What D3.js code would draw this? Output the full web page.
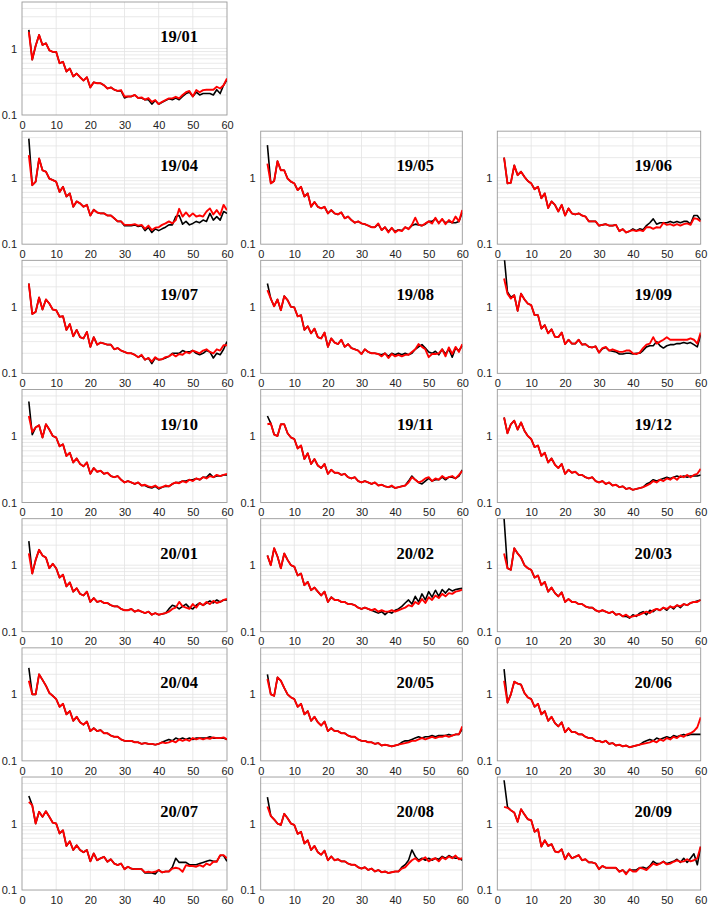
<!DOCTYPE html>
<html><head><meta charset="utf-8">
<script src="https://cdn.jsdelivr.net/npm/d3@7"></script>
<style>body{margin:0;background:#fff}svg{display:block}</style>
</head><body>
<svg id="chart" width="709" height="906"></svg>
<script>
// ---------- data ----------
const lagValues = d3.range(2, 61); // x = 2..60
const xTickValues = [0, 10, 20, 30, 40, 50, 60];
const yTickValues = [0.1, 1];
const yTickLabels = ["0.1", "1"];
const yGridValues = [0.2,0.3,0.4,0.5,0.6,0.7,0.8,0.9,1,2,3,4];
const panelLabels = ["19/01","19/04","19/05","19/06","19/07","19/08","19/09","19/10","19/11","19/12",
  "20/01","20/02","20/03","20/04","20/05","20/06","20/07","20/08","20/09"];

const red_1901 = [1.78,0.68,1.1,1.6,1.13,1.2,0.94,0.89,0.89,0.6,0.63,0.45,0.5,0.38,0.42,0.37,0.33,0.37,0.26,0.31,0.3,0.3,0.28,0.25,0.26,0.24,0.23,0.237,0.19,0.19,0.19,0.2,0.18,0.184,0.17,0.18,0.158,0.168,0.146,0.158,0.168,0.178,0.178,0.188,0.178,0.2,0.22,0.23,0.19,0.237,0.22,0.237,0.24,0.24,0.24,0.266,0.25,0.28,0.355];
const black_1901 = [1.9,0.68,1.1,1.6,1.13,1.2,0.94,0.89,0.89,0.6,0.63,0.45,0.5,0.38,0.42,0.37,0.33,0.37,0.26,0.31,0.3,0.3,0.28,0.25,0.26,0.24,0.23,0.23,0.18,0.19,0.19,0.2,0.18,0.18,0.17,0.17,0.146,0.165,0.145,0.155,0.165,0.175,0.17,0.18,0.17,0.19,0.21,0.22,0.19,0.22,0.2,0.21,0.21,0.21,0.2,0.24,0.21,0.28,0.34];

const red_1904 = [2.18,0.77,0.87,1.94,1.29,1.23,0.97,0.92,0.87,0.61,0.73,0.52,0.58,0.365,0.44,0.41,0.365,0.39,0.27,0.33,0.3,0.29,0.29,0.27,0.27,0.245,0.22,0.22,0.195,0.195,0.195,0.2,0.19,0.195,0.17,0.19,0.163,0.177,0.18,0.195,0.205,0.22,0.205,0.23,0.34,0.26,0.3,0.26,0.29,0.26,0.27,0.26,0.31,0.345,0.28,0.325,0.275,0.39,0.325];
const black_1904 = [3.87,0.77,0.87,1.94,1.29,1.23,0.97,0.92,0.87,0.61,0.73,0.52,0.58,0.365,0.44,0.41,0.365,0.39,0.27,0.33,0.3,0.29,0.29,0.27,0.27,0.245,0.22,0.22,0.19,0.19,0.19,0.195,0.185,0.19,0.16,0.18,0.15,0.17,0.16,0.17,0.18,0.195,0.195,0.26,0.27,0.2,0.22,0.195,0.205,0.22,0.21,0.23,0.22,0.29,0.23,0.26,0.23,0.31,0.29];

const red_1905 = [1.63,0.82,0.89,1.77,1.29,1.29,0.97,0.87,0.82,0.65,0.73,0.52,0.58,0.365,0.43,0.365,0.345,0.365,0.29,0.325,0.29,0.28,0.3,0.245,0.26,0.23,0.21,0.22,0.205,0.2,0.19,0.18,0.18,0.205,0.163,0.18,0.15,0.177,0.15,0.163,0.157,0.18,0.168,0.195,0.25,0.195,0.19,0.205,0.22,0.205,0.25,0.205,0.24,0.2,0.23,0.21,0.26,0.22,0.325];
const black_1905 = [3.08,0.82,0.89,1.77,1.29,1.29,0.97,0.87,0.82,0.65,0.73,0.52,0.58,0.365,0.43,0.365,0.345,0.365,0.29,0.325,0.29,0.28,0.3,0.245,0.26,0.23,0.21,0.22,0.205,0.2,0.19,0.18,0.18,0.2,0.163,0.18,0.155,0.175,0.155,0.165,0.16,0.18,0.17,0.19,0.2,0.195,0.19,0.2,0.22,0.22,0.24,0.21,0.235,0.21,0.22,0.21,0.21,0.22,0.3];

const red_1906 = [2.0,0.82,0.84,1.53,1.09,1.23,1.03,0.89,0.82,0.67,0.73,0.49,0.58,0.35,0.44,0.39,0.31,0.39,0.27,0.345,0.29,0.28,0.29,0.27,0.26,0.22,0.22,0.22,0.19,0.195,0.2,0.19,0.19,0.195,0.157,0.168,0.15,0.157,0.163,0.157,0.163,0.157,0.18,0.18,0.17,0.18,0.177,0.21,0.195,0.2,0.19,0.2,0.19,0.2,0.205,0.195,0.245,0.24,0.22];
const black_1906 = [2.0,0.82,0.84,1.53,1.09,1.23,1.03,0.89,0.82,0.67,0.73,0.49,0.58,0.35,0.44,0.39,0.31,0.39,0.27,0.345,0.29,0.28,0.29,0.27,0.26,0.22,0.22,0.22,0.19,0.195,0.2,0.19,0.19,0.195,0.157,0.168,0.15,0.157,0.17,0.16,0.17,0.165,0.19,0.21,0.24,0.2,0.21,0.21,0.21,0.22,0.21,0.22,0.21,0.22,0.22,0.2,0.27,0.27,0.23];

const red_1907 = [2.24,0.78,0.84,1.38,0.91,1.29,1.12,0.91,0.89,0.71,0.72,0.45,0.55,0.36,0.45,0.35,0.335,0.42,0.25,0.35,0.27,0.29,0.28,0.27,0.27,0.23,0.24,0.22,0.21,0.2,0.2,0.19,0.175,0.19,0.16,0.17,0.15,0.175,0.16,0.163,0.175,0.18,0.195,0.18,0.195,0.19,0.21,0.2,0.22,0.21,0.2,0.22,0.23,0.21,0.2,0.23,0.22,0.265,0.265];
const black_1907 = [2.24,0.78,0.84,1.38,0.91,1.29,1.12,0.91,0.89,0.71,0.72,0.45,0.55,0.36,0.45,0.35,0.335,0.42,0.25,0.35,0.27,0.29,0.28,0.27,0.27,0.23,0.24,0.22,0.21,0.2,0.2,0.19,0.175,0.185,0.16,0.17,0.14,0.17,0.16,0.163,0.17,0.18,0.2,0.2,0.2,0.22,0.21,0.21,0.22,0.2,0.19,0.2,0.22,0.21,0.17,0.2,0.19,0.23,0.3];

const red_1908 = [1.78,1.33,1.02,1.29,0.89,1.45,1.26,1.0,0.98,0.72,0.75,0.45,0.51,0.4,0.47,0.35,0.335,0.41,0.25,0.335,0.29,0.275,0.32,0.25,0.275,0.24,0.23,0.22,0.195,0.23,0.21,0.2,0.2,0.195,0.18,0.2,0.17,0.195,0.18,0.19,0.18,0.19,0.19,0.21,0.23,0.275,0.25,0.23,0.175,0.195,0.195,0.2,0.23,0.18,0.245,0.195,0.25,0.21,0.275];
const black_1908 = [2.24,1.33,1.02,1.29,0.89,1.45,1.26,1.0,0.98,0.72,0.75,0.45,0.51,0.4,0.47,0.35,0.335,0.41,0.25,0.335,0.29,0.275,0.32,0.25,0.275,0.24,0.23,0.22,0.195,0.23,0.21,0.2,0.2,0.195,0.19,0.2,0.18,0.2,0.19,0.2,0.19,0.2,0.19,0.2,0.23,0.25,0.27,0.24,0.21,0.2,0.215,0.19,0.23,0.195,0.23,0.175,0.24,0.22,0.26];

const red_1909 = [2.66,1.58,1.33,1.5,0.87,1.58,1.29,1.12,1.06,0.75,0.75,0.47,0.53,0.4,0.46,0.355,0.35,0.41,0.275,0.32,0.28,0.28,0.32,0.27,0.275,0.25,0.245,0.255,0.205,0.24,0.25,0.22,0.23,0.22,0.21,0.21,0.22,0.22,0.2,0.195,0.205,0.24,0.27,0.28,0.35,0.28,0.3,0.32,0.35,0.32,0.32,0.32,0.32,0.32,0.32,0.335,0.32,0.28,0.41];
const black_1909 = [6.0,1.67,1.4,1.5,0.87,1.58,1.29,1.12,1.06,0.75,0.75,0.47,0.53,0.4,0.46,0.355,0.35,0.41,0.275,0.32,0.28,0.28,0.32,0.27,0.275,0.25,0.245,0.255,0.205,0.235,0.245,0.22,0.215,0.21,0.195,0.195,0.2,0.2,0.195,0.2,0.2,0.22,0.25,0.26,0.26,0.3,0.26,0.24,0.26,0.27,0.27,0.28,0.28,0.29,0.28,0.29,0.27,0.25,0.38];

const red_1910 = [2.0,1.15,1.35,1.45,0.95,1.5,1.25,1.0,0.95,0.7,0.75,0.5,0.56,0.4,0.46,0.38,0.35,0.4,0.27,0.33,0.29,0.3,0.27,0.28,0.25,0.24,0.25,0.22,0.2,0.21,0.2,0.19,0.2,0.18,0.185,0.175,0.17,0.18,0.165,0.17,0.18,0.175,0.19,0.2,0.195,0.21,0.2,0.22,0.21,0.23,0.22,0.24,0.23,0.25,0.24,0.26,0.25,0.26,0.27];
const black_1910 = [3.3,1.05,1.35,1.45,0.95,1.5,1.25,1.0,0.95,0.7,0.75,0.5,0.56,0.4,0.46,0.38,0.35,0.4,0.27,0.33,0.29,0.3,0.27,0.28,0.25,0.24,0.25,0.22,0.2,0.21,0.2,0.19,0.2,0.18,0.18,0.17,0.165,0.175,0.16,0.17,0.175,0.175,0.19,0.2,0.2,0.21,0.21,0.22,0.22,0.23,0.22,0.24,0.24,0.27,0.24,0.25,0.25,0.26,0.26];

const red_1911 = [1.5,1.55,1.05,1.0,1.5,1.5,1.1,0.95,0.9,0.65,0.72,0.45,0.55,0.38,0.45,0.36,0.33,0.38,0.27,0.31,0.28,0.28,0.26,0.27,0.24,0.23,0.24,0.21,0.2,0.21,0.2,0.19,0.2,0.18,0.185,0.175,0.17,0.18,0.165,0.17,0.175,0.18,0.2,0.24,0.22,0.2,0.21,0.23,0.24,0.21,0.23,0.22,0.25,0.23,0.24,0.25,0.23,0.26,0.3];
const black_1911 = [2.0,1.55,1.05,1.0,1.5,1.5,1.1,0.95,0.9,0.65,0.72,0.45,0.55,0.38,0.45,0.36,0.33,0.38,0.27,0.31,0.28,0.28,0.26,0.27,0.24,0.23,0.24,0.21,0.2,0.21,0.2,0.19,0.2,0.18,0.185,0.175,0.17,0.175,0.165,0.17,0.175,0.18,0.21,0.25,0.22,0.2,0.19,0.21,0.23,0.21,0.22,0.22,0.24,0.22,0.24,0.24,0.23,0.25,0.31];

const red_1912 = [1.9,1.1,1.5,1.7,1.25,1.6,1.2,1.0,0.9,0.68,0.72,0.5,0.56,0.4,0.46,0.37,0.33,0.38,0.27,0.31,0.28,0.29,0.26,0.26,0.24,0.23,0.24,0.21,0.2,0.21,0.19,0.2,0.18,0.185,0.17,0.175,0.16,0.165,0.155,0.16,0.165,0.17,0.18,0.19,0.21,0.2,0.22,0.21,0.23,0.22,0.24,0.22,0.25,0.24,0.26,0.24,0.26,0.27,0.32];
const black_1912 = [1.9,1.1,1.5,1.7,1.25,1.6,1.2,1.0,0.9,0.68,0.72,0.5,0.56,0.4,0.46,0.37,0.33,0.38,0.27,0.31,0.28,0.29,0.26,0.26,0.24,0.23,0.24,0.21,0.2,0.21,0.19,0.2,0.18,0.185,0.17,0.175,0.16,0.165,0.155,0.16,0.165,0.17,0.19,0.2,0.22,0.21,0.22,0.23,0.24,0.23,0.24,0.25,0.24,0.25,0.24,0.25,0.25,0.25,0.26];

const red_2001 = [1.5,0.75,1.2,1.7,1.4,1.3,0.9,1.05,0.9,0.65,0.72,0.48,0.55,0.4,0.45,0.37,0.35,0.4,0.28,0.32,0.28,0.29,0.27,0.27,0.25,0.24,0.24,0.22,0.21,0.21,0.22,0.2,0.21,0.2,0.19,0.2,0.18,0.19,0.18,0.185,0.19,0.2,0.22,0.23,0.28,0.24,0.23,0.22,0.26,0.23,0.27,0.25,0.28,0.26,0.29,0.27,0.28,0.3,0.31];
const black_2001 = [2.3,0.75,1.2,1.7,1.4,1.3,0.9,1.05,0.9,0.65,0.72,0.48,0.55,0.4,0.45,0.37,0.35,0.4,0.28,0.32,0.28,0.29,0.27,0.27,0.25,0.24,0.24,0.22,0.21,0.21,0.22,0.2,0.21,0.2,0.19,0.2,0.18,0.19,0.18,0.185,0.19,0.22,0.25,0.24,0.22,0.24,0.26,0.23,0.22,0.25,0.27,0.25,0.27,0.29,0.27,0.3,0.28,0.3,0.3];

const red_2002 = [1.4,1.0,1.8,1.35,0.9,1.5,1.2,1.0,0.95,0.7,0.75,0.5,0.56,0.42,0.46,0.4,0.35,0.4,0.28,0.33,0.3,0.3,0.28,0.28,0.26,0.26,0.25,0.23,0.22,0.23,0.22,0.21,0.22,0.2,0.21,0.2,0.2,0.21,0.2,0.21,0.22,0.23,0.25,0.24,0.28,0.26,0.31,0.27,0.33,0.3,0.35,0.32,0.37,0.34,0.38,0.37,0.4,0.41,0.43];
const black_2002 = [1.4,1.0,1.8,1.35,0.9,1.5,1.2,1.0,0.95,0.7,0.75,0.5,0.56,0.42,0.46,0.4,0.35,0.4,0.28,0.33,0.3,0.3,0.28,0.28,0.26,0.26,0.25,0.23,0.22,0.23,0.22,0.21,0.2,0.19,0.2,0.18,0.2,0.19,0.21,0.22,0.24,0.27,0.3,0.26,0.34,0.28,0.37,0.3,0.4,0.33,0.42,0.34,0.43,0.38,0.44,0.41,0.43,0.44,0.45];

const red_2003 = [1.5,0.9,0.85,1.8,1.5,1.3,1.0,0.9,0.85,0.65,0.7,0.5,0.56,0.4,0.46,0.38,0.34,0.39,0.28,0.31,0.28,0.28,0.26,0.26,0.24,0.23,0.23,0.21,0.2,0.21,0.2,0.19,0.2,0.18,0.185,0.17,0.18,0.165,0.17,0.175,0.18,0.19,0.2,0.19,0.21,0.22,0.21,0.23,0.22,0.24,0.23,0.25,0.24,0.26,0.25,0.27,0.28,0.28,0.3];
const black_2003 = [5.0,0.9,0.85,1.8,1.5,1.3,1.0,0.9,0.85,0.65,0.7,0.5,0.56,0.4,0.46,0.38,0.34,0.39,0.28,0.31,0.28,0.28,0.26,0.26,0.24,0.23,0.23,0.21,0.2,0.21,0.2,0.19,0.2,0.18,0.185,0.17,0.17,0.16,0.18,0.17,0.19,0.2,0.18,0.21,0.2,0.22,0.21,0.23,0.21,0.24,0.22,0.25,0.23,0.26,0.25,0.27,0.28,0.29,0.3];

const red_2004 = [1.6,1.0,1.0,2.0,1.65,1.35,1.05,0.95,0.85,0.65,0.72,0.5,0.56,0.4,0.46,0.38,0.35,0.39,0.28,0.31,0.28,0.29,0.26,0.26,0.24,0.23,0.23,0.21,0.2,0.2,0.2,0.19,0.19,0.18,0.185,0.18,0.18,0.175,0.18,0.19,0.185,0.19,0.2,0.19,0.21,0.2,0.21,0.2,0.22,0.21,0.22,0.21,0.22,0.215,0.225,0.22,0.22,0.225,0.21];
const black_2004 = [2.5,1.0,1.0,2.0,1.65,1.35,1.05,0.95,0.85,0.65,0.72,0.5,0.56,0.4,0.46,0.38,0.35,0.39,0.28,0.31,0.28,0.29,0.26,0.26,0.24,0.23,0.23,0.21,0.2,0.2,0.2,0.19,0.19,0.18,0.185,0.18,0.18,0.175,0.18,0.19,0.2,0.21,0.2,0.22,0.21,0.22,0.21,0.22,0.21,0.22,0.22,0.22,0.22,0.23,0.22,0.22,0.22,0.22,0.21];

const red_2005 = [1.7,1.0,0.95,1.8,1.6,1.25,1.0,0.9,0.85,0.65,0.72,0.5,0.56,0.4,0.46,0.38,0.34,0.39,0.28,0.31,0.28,0.28,0.26,0.26,0.24,0.23,0.23,0.21,0.2,0.2,0.19,0.19,0.18,0.185,0.17,0.175,0.17,0.165,0.17,0.175,0.18,0.185,0.19,0.2,0.2,0.21,0.22,0.21,0.22,0.23,0.22,0.23,0.23,0.24,0.23,0.24,0.25,0.25,0.33];
const black_2005 = [2.0,1.0,0.95,1.8,1.6,1.25,1.0,0.9,0.85,0.65,0.72,0.5,0.56,0.4,0.46,0.38,0.34,0.39,0.28,0.31,0.28,0.28,0.26,0.26,0.24,0.23,0.23,0.21,0.2,0.2,0.19,0.19,0.18,0.185,0.17,0.175,0.17,0.165,0.17,0.175,0.19,0.2,0.2,0.21,0.22,0.23,0.22,0.23,0.23,0.24,0.23,0.24,0.24,0.24,0.25,0.24,0.25,0.25,0.3];

const red_2006 = [1.6,0.75,1.0,1.55,1.45,1.4,1.05,0.9,0.85,0.65,0.72,0.5,0.56,0.4,0.46,0.37,0.33,0.38,0.27,0.31,0.27,0.27,0.25,0.25,0.23,0.22,0.22,0.2,0.2,0.19,0.2,0.18,0.185,0.17,0.175,0.165,0.17,0.16,0.165,0.17,0.175,0.18,0.185,0.19,0.2,0.19,0.21,0.2,0.22,0.21,0.23,0.22,0.24,0.23,0.25,0.26,0.28,0.32,0.45];
const black_2006 = [2.4,0.75,1.0,1.55,1.45,1.4,1.05,0.9,0.85,0.65,0.72,0.5,0.56,0.4,0.46,0.37,0.33,0.38,0.27,0.31,0.27,0.27,0.25,0.25,0.23,0.22,0.22,0.2,0.2,0.19,0.2,0.18,0.185,0.17,0.175,0.165,0.17,0.16,0.165,0.17,0.175,0.19,0.2,0.21,0.2,0.22,0.21,0.22,0.23,0.22,0.24,0.23,0.24,0.25,0.24,0.25,0.25,0.25,0.25];

const red_2007 = [2.11,1.88,1.0,1.5,1.26,1.53,1.26,1.03,1.0,0.71,0.79,0.46,0.54,0.4,0.47,0.4,0.37,0.4,0.27,0.355,0.28,0.3,0.316,0.266,0.29,0.25,0.237,0.25,0.206,0.224,0.21,0.206,0.206,0.206,0.184,0.188,0.184,0.188,0.2,0.184,0.19,0.19,0.21,0.216,0.21,0.188,0.237,0.23,0.23,0.224,0.237,0.224,0.25,0.237,0.266,0.266,0.335,0.335,0.3];
const black_2007 = [2.6,1.88,1.0,1.5,1.26,1.53,1.26,1.03,1.0,0.71,0.79,0.46,0.54,0.4,0.47,0.4,0.37,0.4,0.27,0.355,0.28,0.3,0.316,0.266,0.29,0.25,0.237,0.25,0.206,0.224,0.21,0.206,0.206,0.206,0.18,0.18,0.18,0.175,0.2,0.184,0.19,0.19,0.22,0.3,0.26,0.26,0.26,0.24,0.24,0.24,0.25,0.26,0.27,0.28,0.27,0.27,0.33,0.33,0.27];

const red_2008 = [1.8,1.3,1.15,1.0,0.95,1.4,1.2,1.0,0.95,0.7,0.75,0.5,0.56,0.4,0.46,0.37,0.34,0.39,0.28,0.32,0.28,0.29,0.27,0.27,0.25,0.24,0.24,0.22,0.21,0.22,0.2,0.21,0.19,0.2,0.185,0.19,0.18,0.185,0.19,0.19,0.21,0.22,0.25,0.28,0.3,0.27,0.29,0.31,0.27,0.29,0.3,0.27,0.31,0.29,0.32,0.3,0.33,0.29,0.3];
const black_2008 = [2.5,1.3,1.15,1.0,0.95,1.4,1.2,1.0,0.95,0.7,0.75,0.5,0.56,0.4,0.46,0.37,0.34,0.39,0.28,0.32,0.28,0.29,0.27,0.27,0.25,0.24,0.24,0.22,0.21,0.22,0.2,0.21,0.19,0.2,0.185,0.19,0.18,0.185,0.19,0.19,0.22,0.24,0.28,0.4,0.32,0.28,0.3,0.28,0.3,0.28,0.3,0.29,0.32,0.3,0.33,0.31,0.3,0.3,0.28];

const red_2009 = [1.78,1.72,1.58,1.46,1.06,1.64,1.37,1.16,1.12,0.75,0.82,0.45,0.56,0.46,0.49,0.38,0.37,0.41,0.29,0.355,0.3,0.316,0.335,0.28,0.29,0.26,0.26,0.25,0.206,0.23,0.216,0.216,0.216,0.216,0.188,0.2,0.172,0.206,0.19,0.19,0.216,0.21,0.2,0.224,0.25,0.237,0.25,0.266,0.243,0.25,0.266,0.28,0.266,0.27,0.29,0.27,0.28,0.3,0.45];
const black_2009 = [4.47,1.78,1.58,1.46,1.06,1.64,1.37,1.16,1.12,0.75,0.82,0.45,0.56,0.46,0.49,0.38,0.37,0.41,0.29,0.355,0.3,0.316,0.335,0.28,0.29,0.26,0.26,0.25,0.206,0.23,0.216,0.216,0.216,0.216,0.19,0.2,0.18,0.2,0.2,0.2,0.216,0.22,0.21,0.23,0.27,0.25,0.25,0.27,0.25,0.26,0.27,0.29,0.26,0.3,0.26,0.3,0.35,0.24,0.45];

const redSeries = [red_1901,red_1904,red_1905,red_1906,red_1907,red_1908,red_1909,red_1910,red_1911,red_1912,
  red_2001,red_2002,red_2003,red_2004,red_2005,red_2006,red_2007,red_2008,red_2009];
const blackSeries = [black_1901,black_1904,black_1905,black_1906,black_1907,black_1908,black_1909,black_1910,black_1911,black_1912,
  black_2001,black_2002,black_2003,black_2004,black_2005,black_2006,black_2007,black_2008,black_2009];

// ---------- layout ----------
const colLeft = [22, 260.7, 497.3];
const colRight = [227, 462.3, 700.7];
const rowBottom0 = 115, rowPitch = 129.17, plotH = 113;

const svg = d3.select("#chart");
const defs = svg.append("defs");

panelLabels.forEach((label, i) => {
  const row = i === 0 ? 0 : 1 + Math.floor((i - 1) / 3);
  const col = i === 0 ? 0 : (i - 1) % 3;
  const x0 = colLeft[col], x1 = colRight[col];
  const yb = rowBottom0 + row * rowPitch, yt = yb - plotH;

  const x = d3.scaleLinear().domain([0, 60]).range([x0, x1]);
  const y = d3.scaleLog().domain([0.1, 5]).range([yb, yt]);

  const g = svg.append("g");
  const clipId = "clip" + i;
  defs.append("clipPath").attr("id", clipId)
    .append("rect").attr("x", x0).attr("y", yt).attr("width", x1 - x0).attr("height", yb - yt);

  g.append("g").selectAll("line").data(yGridValues).join("line")
    .attr("x1", x0).attr("x2", x1).attr("y1", d => y(d)).attr("y2", d => y(d))
    .attr("stroke", "#e3e3e3").attr("stroke-width", 0.8);
  g.append("g").selectAll("line").data(xTickValues.slice(1, -1)).join("line")
    .attr("x1", d => x(d)).attr("x2", d => x(d)).attr("y1", yt).attr("y2", yb)
    .attr("stroke", "#e3e3e3").attr("stroke-width", 0.8);

  g.append("rect").attr("x", x0).attr("y", yt).attr("width", x1 - x0).attr("height", yb - yt)
    .attr("fill", "none").attr("stroke", "#9a9a9a").attr("stroke-width", 0.9);

  const xAxis = d3.axisBottom(x).tickValues(xTickValues).tickSize(0).tickPadding(6).tickFormat(d3.format("d"));
  const xa = g.append("g").attr("transform", `translate(0,${yb})`).call(xAxis);
  xa.select(".domain").remove();
  xa.selectAll("text").attr("font-family", "Liberation Sans, Arial, sans-serif").attr("font-size", 11).attr("fill", "#222");

  const yAxis = d3.axisLeft(y).tickValues(yTickValues).tickSize(0).tickPadding(5)
    .tickFormat((d, k) => yTickLabels[k]);
  const ya = g.append("g").attr("transform", `translate(${x0},0)`).call(yAxis);
  ya.select(".domain").remove();
  ya.selectAll("text").attr("font-family", "Liberation Sans, Arial, sans-serif").attr("font-size", 11).attr("fill", "#222");

  const line = d3.line().x((d, k) => x(lagValues[k])).y(d => y(d));
  const lg = g.append("g").attr("clip-path", `url(#${clipId})`);
  lg.append("path").datum(blackSeries[i]).attr("d", line)
    .attr("fill", "none").attr("stroke", "#000").attr("stroke-width", 1.6).attr("stroke-linejoin", "round");
  lg.append("path").datum(redSeries[i]).attr("d", line)
    .attr("fill", "none").attr("stroke", "#ff0000").attr("stroke-width", 1.9).attr("stroke-linejoin", "round");

  g.append("text").attr("x", x(46)).attr("y", yt + 40).attr("text-anchor", "middle")
    .attr("font-family", "Liberation Serif, Times New Roman, serif").attr("font-weight", "bold")
    .attr("font-size", 16.5).attr("fill", "#000").text(label);
});
</script>
</body></html>
